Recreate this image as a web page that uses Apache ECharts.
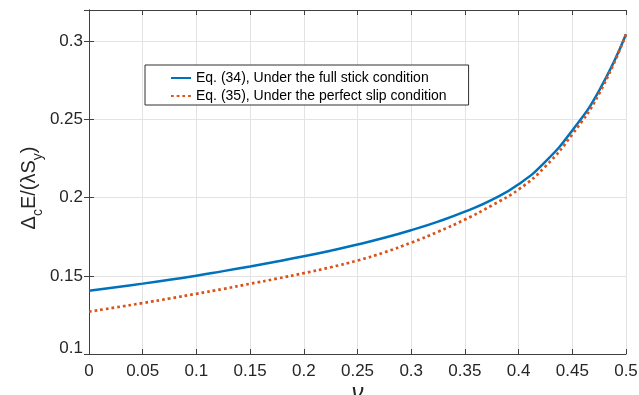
<!DOCTYPE html>
<html>
<head>
<meta charset="utf-8">
<script src="https://cdn.jsdelivr.net/npm/echarts@6/dist/echarts.min.js"></script>
<style>
html,body{margin:0;padding:0;background:#fff;}
#chart{width:639px;height:395px;}
</style>
</head>
<body>
<div id="chart"></div>
<script>
// Data
var nu = [0, 0.025, 0.05, 0.075, 0.1, 0.125, 0.15, 0.175, 0.2, 0.225, 0.25, 0.275, 0.3, 0.325, 0.35, 0.375, 0.4, 0.425, 0.45, 0.475, 0.5];
var stickVals = [0.1404, 0.1427, 0.1450, 0.1475, 0.1500, 0.1530, 0.1560, 0.1592, 0.1625, 0.1661, 0.1700, 0.1743, 0.1792, 0.1847, 0.1910, 0.1985, 0.2085, 0.2230, 0.2430, 0.2685, 0.3045];
var slipVals  = [0.1271, 0.1298, 0.1326, 0.1355, 0.1385, 0.1416, 0.1449, 0.1482, 0.1517, 0.1555, 0.1598, 0.1650, 0.1712, 0.1782, 0.1860, 0.1950, 0.2052, 0.2200, 0.2405, 0.2665, 0.3045];
var stickName = 'Eq. (34), Under the full stick condition';
var slipName = 'Eq. (35), Under the perfect slip condition';
var xTicks = {min: 0, max: 0.5, interval: 0.05};
var yTicks = {min: 0.1, max: 0.32, interval: 0.05};

function zip(xs, ys) { return xs.map(function (x, i) { return [x, ys[i]]; }); }

var FONT = '"Liberation Sans", Arial, Helvetica, sans-serif';
var AX = '#404040';
var TXT = '#262626';
var GRIDC = '#e3e3e3';

var chart = echarts.init(document.getElementById('chart'), null, {renderer: 'canvas'});
var baseAxisLine = {show: true, lineStyle: {color: AX, width: 1}};
var baseTick = {show: true, inside: true, length: 5, lineStyle: {color: AX, width: 1}};

chart.setOption({
  animation: false,
  backgroundColor: '#fff',
  textStyle: {fontFamily: FONT},
  grid: {left: 89, right: 13, top: 10, bottom: 41, containLabel: false, outerBoundsMode: 'none'},
  legend: {
    left: 145, top: 65,
    orient: 'vertical', align: 'left',
    backgroundColor: '#fff', borderColor: '#303030', borderWidth: 1, borderRadius: 0,
    padding: [6, 22, 2, 25],
    itemWidth: 20, itemHeight: 12, itemGap: 4,
    selectedMode: false,
    itemStyle: {opacity: 0},
    textStyle: {fontFamily: FONT, fontSize: 14, color: '#000'},
    data: [stickName, slipName]
  },
  xAxis: [{
    type: 'value', min: xTicks.min, max: xTicks.max, interval: xTicks.interval,
    position: 'bottom',
    axisLine: baseAxisLine, axisTick: baseTick,
    axisLabel: {margin: 9, fontSize: 17, color: TXT, fontFamily: FONT},
    splitLine: {show: true, lineStyle: {color: GRIDC, width: 1}},
    name: 'ν', nameLocation: 'middle', nameGap: 27, nameMoveOverlap: false,
    nameTextStyle: {fontSize: 24, fontStyle: 'italic', color: TXT, fontFamily: FONT}
  }, {
    type: 'value', min: xTicks.min, max: xTicks.max, interval: xTicks.interval,
    position: 'top',
    axisLine: baseAxisLine, axisTick: baseTick,
    axisLabel: {show: false}, splitLine: {show: false}
  }],
  yAxis: [{
    type: 'value', min: yTicks.min, max: yTicks.max, interval: yTicks.interval,
    position: 'left',
    axisLine: baseAxisLine, axisTick: baseTick,
    axisLabel: {
      margin: 6, fontSize: 17, color: TXT, fontFamily: FONT, showMaxLabel: false,
      formatter: function (v) { return Math.abs(v - 0.1) < 1e-9 ? '{lo|0.1}' : String(+v.toFixed(2)); },
      rich: {lo: {fontSize: 17, color: TXT, fontFamily: FONT, padding: [0, 0, 12, 0]}}
    },
    splitLine: {show: true, lineStyle: {color: GRIDC, width: 1}},
    name: '{d|Δ}{s|c}{d|E/(λS}{s|y}{d|)}',
    nameLocation: 'middle', nameRotate: 90, nameGap: 50, nameMoveOverlap: false,
    nameTextStyle: {
      color: TXT, fontFamily: FONT, padding: [0, 12, 0, 0],
      rich: {
        d: {fontSize: 20, lineHeight: 20, verticalAlign: 'top', color: TXT, fontFamily: FONT},
        s: {fontSize: 14, lineHeight: 14, verticalAlign: 'top', padding: [12, 0, 0, 0], color: TXT, fontFamily: FONT}
      }
    }
  }, {
    type: 'value', min: yTicks.min, max: yTicks.max, interval: yTicks.interval,
    position: 'right',
    axisLine: baseAxisLine, axisTick: baseTick,
    axisLabel: {show: false}, splitLine: {show: false}
  }],
  series: [{
    name: stickName, type: 'line', data: zip(nu, stickVals),
    showSymbol: false, symbol: 'none', smooth: 0.5,
    lineStyle: {color: '#0072BD', width: 2.5},
    itemStyle: {color: '#0072BD', opacity: 0}, z: 3
  }, {
    name: slipName, type: 'line', data: zip(nu, slipVals),
    showSymbol: false, symbol: 'none', smooth: 0.5,
    lineStyle: {color: '#D95319', width: 2.7, type: [2.7, 3], cap: 'butt'},
    itemStyle: {color: '#D95319', opacity: 0}, z: 4
  }]
});
</script>
</body>
</html>
